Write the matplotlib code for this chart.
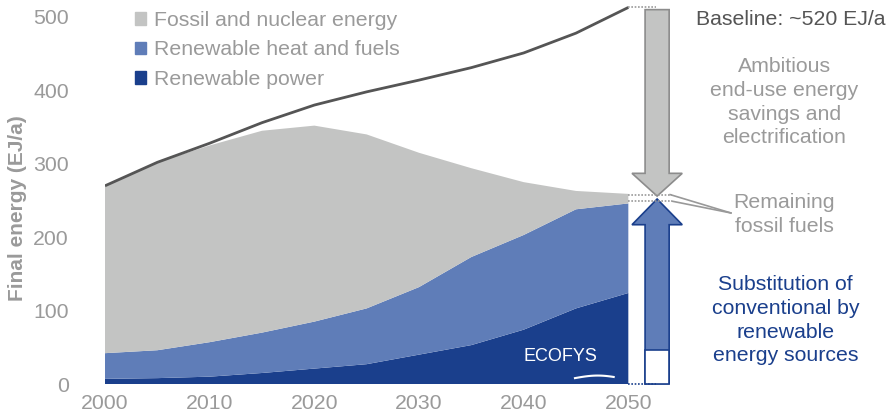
import numpy as np
import matplotlib
matplotlib.use("Agg")
import matplotlib.pyplot as plt
from matplotlib.patches import Polygon, Patch

plt.rcParams['font.family'] = ['Liberation Sans', 'DejaVu Sans']

# data (EJ/a)
years = [2000, 2005, 2010, 2015, 2020, 2025, 2030, 2035, 2040, 2045, 2050]
renewable_power = [7, 8, 10, 15, 21, 27, 40, 53, 74, 103, 124]
renewable_heat_fuels = [35, 38, 47, 55, 64, 76, 92, 120, 129, 135, 122]
fossil_nuclear = [228, 256, 268, 275, 267, 237, 183, 121, 72, 25, 13]
baseline = [270, 302, 328, 356, 380, 398, 414, 431, 451, 478, 513]
labels = ['Fossil and nuclear energy', 'Renewable heat and fuels', 'Renewable power']

c_gray = '#c3c4c3'
c_light = '#5f7db8'
c_dark = '#1a3f8c'
c_text = '#9a9a9a'
fs = 15.3

fig = plt.figure(figsize=(8.9, 4.2), dpi=100)
ax = fig.add_axes([105 / 890, 36 / 420, 785 / 890, 381.7 / 420])
ax.set_xlim(2000, 2075)
ax.set_ylim(0, 520)

ax.stackplot(years, renewable_power, renewable_heat_fuels, fossil_nuclear,
             colors=[c_dark, c_light, c_gray], linewidth=0)
ax.plot(years, baseline, color='#555555', lw=2, solid_capstyle='butt')

for s in ax.spines.values():
    s.set_visible(False)
ax.set_xticks([2000, 2010, 2020, 2030, 2040, 2050])
ax.set_yticks([0, 100, 200, 300, 400, 500])
ax.tick_params(length=0, labelsize=fs, colors=c_text, pad=7)
ax.tick_params(axis='y', pad=26)
ax.set_ylabel('Final energy (EJ/a)', fontsize=15, fontweight='bold', color=c_text)
ax.yaxis.set_label_coords(-78 / 785, 0.46)

handles = [Patch(color=c_gray), Patch(color=c_light), Patch(color=c_dark)]
ax.legend(handles, labels, loc='upper left', bbox_to_anchor=(21 / 785, 1.0),
          frameon=False, fontsize=fs, labelcolor=c_text, handlelength=0.55,
          handleheight=0.55, handletextpad=0.35, labelspacing=0.5, borderaxespad=0)

# right-hand annotations
top2050 = baseline[-1]
tot2050 = renewable_power[-1] + renewable_heat_fuels[-1] + fossil_nuclear[-1]
ren2050 = renewable_power[-1] + renewable_heat_fuels[-1]
xc = 2052.75
sw, hw = 1.15, 2.4

# dotted guide lines
ax.plot([2050, 2052.6], [top2050, top2050], ls=(0, (1, 1)), color='#999999', lw=1.2)
ax.plot([2050, 2054.2], [tot2050 - 1, tot2050 - 1], ls=(0, (1, 1)), color='#999999', lw=1.2)
ax.plot([2050, 2054.2], [ren2050 + 3, ren2050 + 3], ls=(0, (1, 1)), color='#999999', lw=1.2)
ax.plot([2050, 2052.6], [0.5, 0.5], ls=(0, (1, 1)), color=c_dark, lw=1.2, clip_on=False)

# gray downward arrow
tip_g = tot2050 - 3
head_g = tip_g + 31
gray_arrow = Polygon([(xc - sw, top2050 - 3), (xc + sw, top2050 - 3), (xc + sw, head_g),
                      (xc + hw, head_g), (xc, tip_g), (xc - hw, head_g), (xc - sw, head_g)],
                     closed=True, facecolor=c_gray, edgecolor='#8c8c8c', lw=1.2)
ax.add_patch(gray_arrow)

# blue upward arrow
tip_b = ren2050 + 6
head_b = tip_b - 35
blue_arrow = Polygon([(xc - sw, 0.5), (xc + sw, 0.5), (xc + sw, head_b), (xc + hw, head_b),
                      (xc, tip_b), (xc - hw, head_b), (xc - sw, head_b)],
                     closed=True, facecolor=c_light, edgecolor=c_dark, lw=1.2, clip_on=False)
ax.add_patch(blue_arrow)
ax.add_patch(Polygon([(xc - sw, 0.5), (xc + sw, 0.5), (xc + sw, 46), (xc - sw, 46)],
                     closed=True, facecolor='white', edgecolor=c_dark, lw=1.2, clip_on=False))

# pointer lines to "Remaining fossil fuels"
ax.plot([2054.0, 2059.8], [tot2050 - 1, 233], color='#999999', lw=1.2)
ax.plot([2054.2, 2059.8], [ren2050 + 3, 233], color='#999999', lw=1.2)

ax.text(2056.5, 496, 'Baseline: ~520 EJ/a', fontsize=fs, color='#555555',
        ha='left', va='center')
ax.text(2064.9, 384, 'Ambitious\nend-use energy\nsavings and\nelectrification',
        fontsize=fs, color=c_text, ha='center', va='center', linespacing=1.32)
ax.text(2064.9, 231, 'Remaining\nfossil fuels', fontsize=fs, color=c_text,
        ha='center', va='center', linespacing=1.32)
ax.text(2065.0, 87, 'Substitution of\nconventional by\nrenewable\nenergy sources',
        fontsize=fs, color=c_dark, ha='center', va='center', linespacing=1.32)

# logo
ax.text(2043.5, 37, 'ECOFYS', fontsize=13, color='white', ha='center', va='center')
sx = np.linspace(2044.9, 2048.6, 20)
ax.plot(sx, 8 + 3.5 * np.sin((sx - 2044.9) / 3.7 * np.pi * 0.85), color='white', lw=1.5)

fig.savefig('out.png', dpi=100)
